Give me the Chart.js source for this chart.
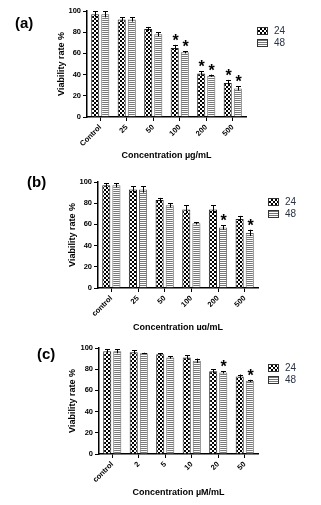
<!DOCTYPE html>
<html>
<head>
<meta charset="utf-8">
<script src="https://cdn.jsdelivr.net/npm/chart.js"></script>
<style>
body{margin:0;background:#fff;width:321px;height:505px;position:relative;overflow:hidden;font-family:"Liberation Sans",Arial,sans-serif}
canvas{position:absolute;left:0}
.tag{position:absolute;font-weight:bold;font-size:15px;color:#000;line-height:16px}
.sw{position:absolute;width:9px;height:6px;border:1px solid #333}
.checker{background:repeating-conic-gradient(#000 0 25%,#fff 0 50%) 0 0/4px 4px}
.stripe{background:repeating-linear-gradient(#777 0 1px,#fff 1px 2px)}
.lt{position:absolute;font-size:10px;color:#2a3344;line-height:10px}
</style>
</head>
<body>
<canvas id="ca" width="321" height="165" style="top:0"></canvas>
<canvas id="cb" width="321" height="165" style="top:165px"></canvas>
<canvas id="cc" width="321" height="175" style="top:330px"></canvas>

<div class="tag" style="left:15px;top:15px">(a)</div>
<div class="tag" style="left:27px;top:174px">(b)</div>
<div class="tag" style="left:37px;top:346px">(c)</div>

<div class="sw checker" style="left:257px;top:27px"></div><div class="lt" style="left:274px;top:26px">24</div>
<div class="sw stripe" style="left:257px;top:39px"></div><div class="lt" style="left:274px;top:38px">48</div>
<div class="sw checker" style="left:268px;top:198px"></div><div class="lt" style="left:285px;top:197px">24</div>
<div class="sw stripe" style="left:268px;top:210px"></div><div class="lt" style="left:285px;top:209px">48</div>
<div class="sw checker" style="left:268px;top:364px"></div><div class="lt" style="left:285px;top:363px">24</div>
<div class="sw stripe" style="left:268px;top:376px"></div><div class="lt" style="left:285px;top:375px">48</div>

<script>
// panel (a)
const labelsA = ['Control', '25', '50', '100', '200', '500'];
const meanA24 = [97, 92, 83, 65, 41, 32];
const meanA48 = [97, 92, 78, 61, 39, 27];
const errA24 = [3, 2, 2, 3, 2, 3];
const errA48 = [3, 2, 2, 1, 1, 2];
const starA24 = [0, 0, 0, 1, 1, 1];
const starA48 = [0, 0, 0, 1, 1, 1];

// panel (b)
const labelsB = ['control', '25', '50', '100', '200', '500'];
const meanB24 = [97, 93, 83, 74, 74, 65];
const meanB48 = [97, 93, 78, 61, 57, 52];
const errB24 = [2, 3, 2, 4, 4, 3];
const errB48 = [2, 3, 2, 1, 2, 3];
const starB24 = [0, 0, 0, 0, 0, 0];
const starB48 = [0, 0, 0, 0, 1, 1];

// panel (c)
const labelsC = ['control', '2', '5', '10', '20', '50'];
const meanC24 = [97, 96, 94, 91, 78, 73];
const meanC48 = [97, 95, 91, 88, 77, 69];
const errC24 = [2, 2, 1, 2, 2, 2];
const errC48 = [2, 0.5, 1, 2, 1, 1];
const starC24 = [0, 0, 0, 0, 0, 0];
const starC48 = [0, 0, 0, 0, 1, 1];

const seriesNames = ['24', '48'];
const yTicks = {min: 0, max: 100, step: 20};

const FONT = '"Liberation Sans", Arial, sans-serif';

function makePattern(kind){
    var c = document.createElement('canvas');
    c.width = 4; c.height = 4;
    var g = c.getContext('2d');
    g.fillStyle = '#fff';
    g.fillRect(0, 0, 4, 4);
    if(kind == 'checker'){
        g.fillStyle = '#000';
        g.fillRect(0, 0, 2, 2);
        g.fillRect(2, 2, 2, 2);
    } else {
        g.fillStyle = '#777';
        g.fillRect(0, 0, 4, 1);
        g.fillRect(0, 2, 4, 1);
    }
    return g.createPattern(c, 'repeat');
}
const checker = makePattern('checker');
const stripes = makePattern('stripes');

// error bars + asterisks
function extrasPlugin(errs, stars){
    return {
        id: 'extras',
        afterDatasetsDraw(chart){
            var ctx = chart.ctx;
            var y = chart.scales.y;
            ctx.save();
            ctx.strokeStyle = '#000';
            ctx.fillStyle = '#000';
            ctx.lineWidth = 1;
            chart.data.datasets.forEach(function(ds, i){
                var meta = chart.getDatasetMeta(i);
                meta.data.forEach(function(bar, j){
                    var v = ds.data[j], e = errs[i][j];
                    var top = y.getPixelForValue(v + e);
                    var bot = y.getPixelForValue(v - e);
                    var x = Math.round(bar.x) + 0.5;
                    ctx.beginPath();
                    ctx.moveTo(x, bot);
                    ctx.lineTo(x, top);
                    ctx.moveTo(x - 2.5, Math.round(top) + 0.5);
                    ctx.lineTo(x + 2.5, Math.round(top) + 0.5);
                    ctx.stroke();
                    if(stars[i][j]){
                        ctx.font = 'bold 16px ' + FONT;
                        ctx.textAlign = 'center';
                        ctx.textBaseline = 'alphabetic';
                        ctx.fillText('*', x, top + 1);
                    }
                });
            });
            ctx.restore();
        }
    };
}

function makeChart(id, p){
    var W = 321;
    var padL = p.yTitleX - 5.4;
    var padB = p.h - (p.xTitleY + 5.4);
    var tickFont = {family: FONT, size: 7.5, weight: 'bold'};
    var titleFont = {family: FONT, size: 9, weight: 'bold'};
    return new Chart(document.getElementById(id), {
        type: 'bar',
        data: {
            labels: p.labels,
            datasets: [
                {label: seriesNames[0], data: p.m24, backgroundColor: checker, borderColor: '#222', borderWidth: 1, borderSkipped: 'bottom'},
                {label: seriesNames[1], data: p.m48, backgroundColor: stripes, borderColor: '#666', borderWidth: 1, borderSkipped: 'bottom'}
            ]
        },
        options: {
            responsive: false,
            animation: false,
            categoryPercentage: 0.76,
            barPercentage: 0.8,
            layout: {padding: {left: padL, right: W - p.area[2], top: p.area[1], bottom: padB}},
            plugins: {legend: {display: false}, tooltip: {enabled: false}},
            scales: {
                x: {
                    grid: {drawOnChartArea: false, drawTicks: true, tickLength: 4, offset: false, color: '#000'},
                    border: {display: true, color: '#000', width: 1.5},
                    ticks: {autoSkip: false, minRotation: 45, maxRotation: 45, color: '#000', font: tickFont, padding: 2},
                    title: {display: true, text: p.unit, color: '#000', font: titleFont, padding: 0},
                    afterFit: function(s){ s.height = p.h - padB - p.area[3]; }
                },
                y: {
                    min: yTicks.min, max: yTicks.max,
                    grid: {drawOnChartArea: false, drawTicks: true, tickLength: 4, color: '#000'},
                    border: {display: true, color: '#000', width: 1.5},
                    ticks: {stepSize: yTicks.step, color: '#000', font: tickFont, padding: 2},
                    title: {display: true, text: 'Viability rate %', color: '#000', font: titleFont, padding: 0},
                    afterFit: function(s){ s.width = p.area[0] - padL; }
                }
            }
        },
        plugins: [extrasPlugin(p.errs, p.stars)]
    });
}

makeChart('ca', {h: 165, area: [87, 11, 246, 117], yTitleX: 62, xTitleY: 156, unit: 'Concentration µg/mL',
    labels: labelsA, m24: meanA24, m48: meanA48, errs: [errA24, errA48], stars: [starA24, starA48]});
makeChart('cb', {h: 165, area: [98, 17, 258, 123], yTitleX: 73, xTitleY: 163, unit: 'Concentration µg/mL',
    labels: labelsB, m24: meanB24, m48: meanB48, errs: [errB24, errB48], stars: [starB24, starB48]});
makeChart('cc', {h: 175, area: [99, 18, 258, 124], yTitleX: 73, xTitleY: 163, unit: 'Concentration µM/mL',
    labels: labelsC, m24: meanC24, m48: meanC48, errs: [errC24, errC48], stars: [starC24, starC48]});
</script>
</body>
</html>
